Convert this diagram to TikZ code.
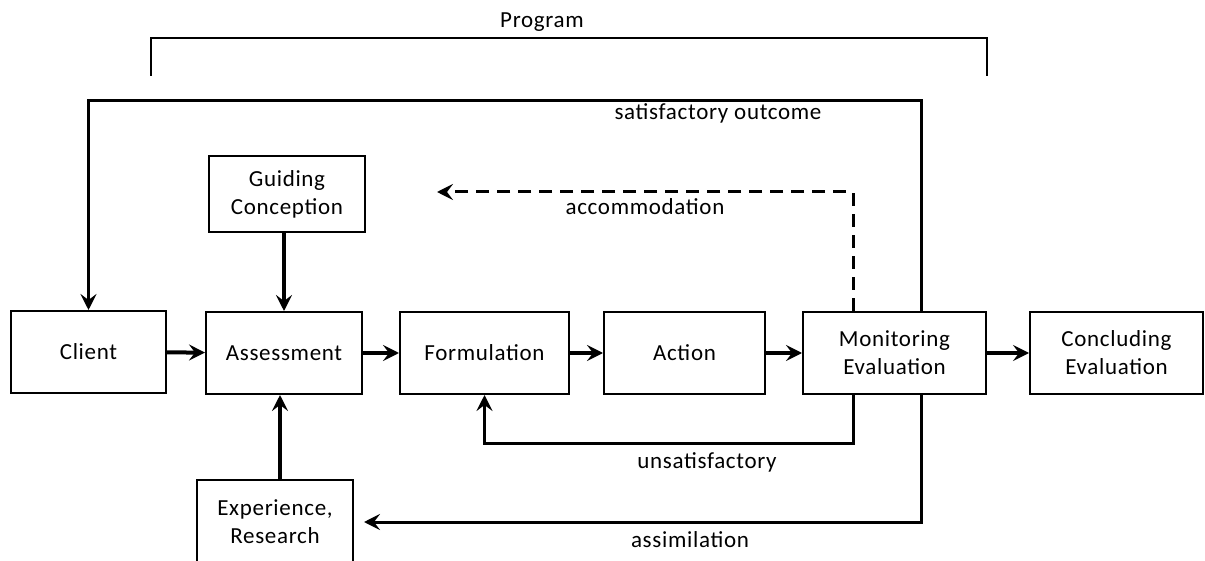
\documentclass[tikz,border=0pt]{standalone}
\usepackage{fontspec}
\setmainfont{Carlito}[LetterSpace=3]
\usetikzlibrary{arrows.meta}
\begin{document}
\begin{tikzpicture}[x=1pt,y=-1pt,
  font=\fontsize{23}{28}\selectfont,
  box/.style={draw,line width=2pt,fill=white,inner sep=0pt,align=center,minimum height=82pt},
  tip/.style={-{Stealth[length=16pt,width=16pt,inset=6pt]}},
  arr/.style={line width=4pt,tip},
  link/.style={line width=3pt,tip},
  lbl/.style={inner sep=0pt}]
\useasboundingbox (0,0) rectangle (1205,561);

% process row
\node[box,minimum width=155pt] (client)   at (88.5,352)  {Client};
\node[box,minimum width=156pt] (assess)   at (284,353)   {Assessment};
\node[box,minimum width=169pt] (form)     at (484.5,353) {Formulation};
\node[box,minimum width=161pt] (action)   at (684.5,353) {Action};
\node[box,minimum width=183pt] (monitor)  at (894.5,353) {Monitoring\\Evaluation};
\node[box,minimum width=173pt] (conclude) at (1116.5,353){Concluding\\Evaluation};

% inputs to the assessment
\node[box,minimum width=156pt,minimum height=76pt] (guide) at (287,194) {Guiding\\Conception};
\node[box,minimum width=156pt,minimum height=83pt] (exper) at (275,521.5) {Experience,\\Research};

% program bracket
\coordinate (pl) at (151,76);
\coordinate (pr) at (987,76);
\draw[line width=2.5pt] (pl) -- (151,38) -- (987,38) -- (pr);
\node[lbl] (prog) at (542,22) {Program};

% main flow
\draw[arr] (client) -- (assess);
\draw[arr] (assess) -- (form);
\draw[arr] (form) -- (action);
\draw[arr] (action) -- (monitor);
\draw[arr] (monitor) -- (conclude);
\draw[link,line width=3.5pt] (assess.north |- guide.south) -- (assess.north);
\draw[link,line width=3.5pt] ([xshift=5pt]exper.north) -- ([xshift=5pt]exper.north |- assess.south);

% feedback loops
\coordinate (top) at (921,101);
\coordinate (low) at (921,522);
\coordinate (mid) at (853,443);
\coordinate (dash) at (853,192);
\coordinate (dashend) at (437,192);
\draw[link] (top |- monitor.north) -- (top) -| (client.north);
\draw[link,shorten >=10pt] (low |- monitor.south) -- (low) -- (exper.east |- low);
\draw[link] (mid |- monitor.south) -- (mid) -| (form.south);
\draw[link,dash pattern=on 13pt off 8pt] (dash |- monitor.north) -- (dash) -- (dashend);

% loop labels
\node[lbl] (sat) at (718,113) {satisfactory outcome};
\node[lbl] (acc) at (645,207) {accommodation};
\node[lbl] (uns) at (707,462) {unsatisfactory};
\node[lbl] (ass) at (690,540) {assimilation};
\end{tikzpicture}
\end{document}
